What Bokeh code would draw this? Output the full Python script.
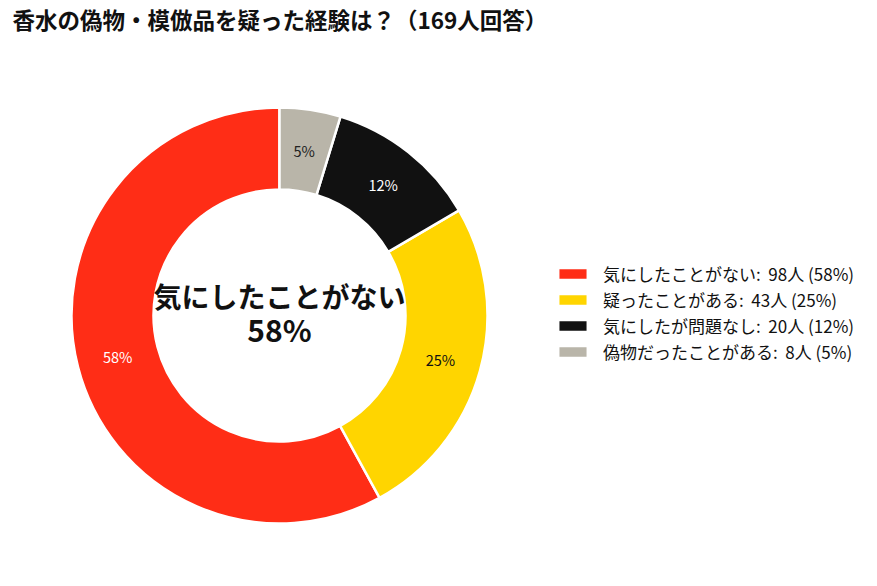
import math

from bokeh.core.properties import value
from bokeh.embed import file_html
from bokeh.models import ColumnDataSource, Label, Legend, LegendItem, Range1d
from bokeh.plotting import figure
from bokeh.resources import INLINE

# Survey data
title_text = "香水の偽物・模倣品を疑った経験は？（169人回答）"
categories = ["気にしたことがない", "疑ったことがある", "気にしたが問題なし", "偽物だったことがある"]
counts = [98, 43, 20, 8]
colors = ["#FF2D16", "#FFD500", "#111111", "#B9B5A9"]
pct_label_colors = ["#FFFFFF", "#111111", "#FFFFFF", "#222222"]

W, H = 877, 586
FONT = "Noto Sans CJK JP"

total = sum(counts)
pcts = [round(c / total * 100) for c in counts]

# Donut geometry (canvas pixels, y up)
cx, cy = 279, H - 315
r_out, r_in = 208, 126
r_lab = (r_out + r_in) / 2

starts, ends, mids = [], [], []
acc = 0
for c in counts:
    a0 = math.pi / 2 + 2 * math.pi * acc / total
    acc += c
    a1 = math.pi / 2 + 2 * math.pi * acc / total
    starts.append(a0)
    ends.append(a1)
    mids.append((a0 + a1) / 2)

src = ColumnDataSource(dict(
    cat=categories,
    start=starts,
    end=ends,
    color=colors,
    lx=[cx + r_lab * math.cos(m) for m in mids],
    ly=[cy + r_lab * math.sin(m) for m in mids],
    pct=[f"{p}%" for p in pcts],
    pcolor=pct_label_colors,
))

p = figure(width=W, height=H, output_backend="svg", toolbar_location=None,
           x_range=Range1d(0, W), y_range=Range1d(0, H), min_border=0)
p.axis.visible = False
p.grid.visible = False
p.outline_line_color = None
p.background_fill_color = "white"
p.border_fill_color = "white"

wedges = p.annular_wedge(x=cx, y=cy, inner_radius=r_in, outer_radius=r_out,
                         start_angle="start", end_angle="end", direction="anticlock",
                         fill_color="color", line_color="white", line_width=2.5,
                         source=src)

p.text(x="lx", y="ly", text="pct", text_color="pcolor", source=src,
       text_align="center", text_baseline="middle",
       text_font=value(FONT), text_font_size="14.5px")

# Centre annotation for the largest group
top = max(range(len(counts)), key=lambda i: counts[i])
p.add_layout(Label(x=cx, y=H - 295, text=categories[top], text_align="center",
                   text_baseline="middle", text_font=FONT, text_font_size="28px",
                   text_font_style="bold", text_color="#111111"))
p.add_layout(Label(x=cx, y=H - 328, text=f"{pcts[top]}%", text_align="center",
                   text_baseline="middle", text_font=FONT, text_font_size="30px",
                   text_font_style="bold", text_color="#111111"))

# Title
p.add_layout(Label(x=12, y=H - 18, x_units="screen", y_units="screen",
                   text=title_text, text_baseline="middle", text_font=FONT,
                   text_font_size="22.5px", text_font_style="bold",
                   text_color="#111111"))

items = [LegendItem(label=f"{categories[i]}:\u00a0 {counts[i]}人 ({pcts[i]}%)",
                    renderers=[wedges], index=i) for i in range(len(counts))]
legend = Legend(items=items, location=(554, 222), padding=0, margin=0,
                spacing=1, glyph_width=37, glyph_height=15, label_height=20,
                label_standoff=12, label_text_font=FONT,
                label_text_font_size="17px", label_text_color="#111111",
                border_line_color=None, background_fill_alpha=0)
p.add_layout(legend, "center")

open("out.html", "w").write(file_html(p, INLINE))
